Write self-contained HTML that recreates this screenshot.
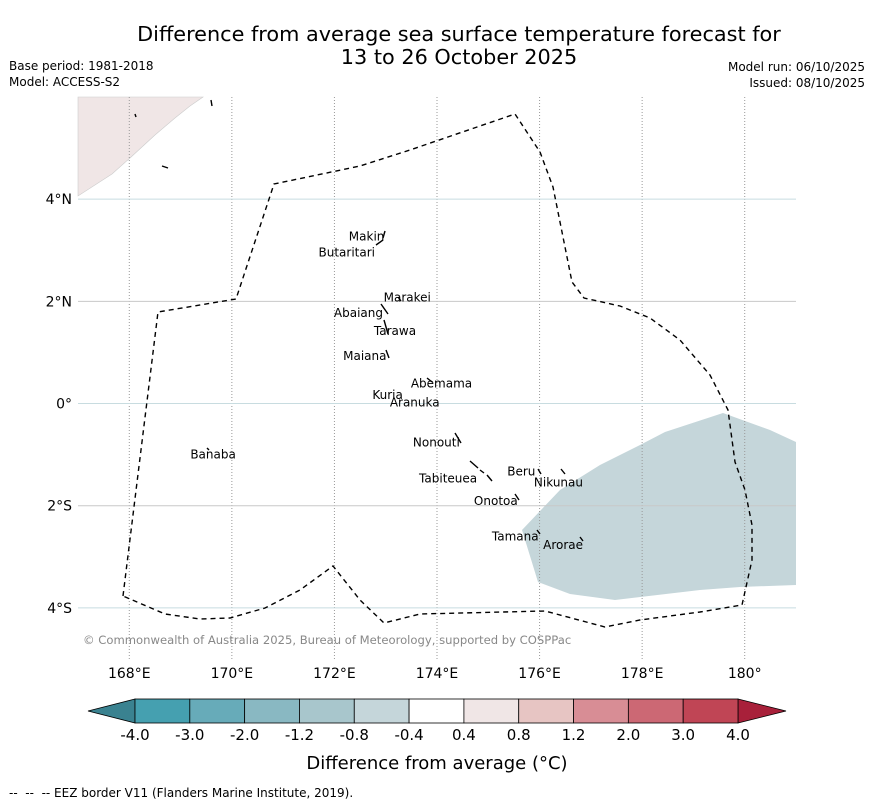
<!DOCTYPE html>
<html><head><meta charset="utf-8"><style>
body{margin:0;background:#fff;width:873px;height:804px;overflow:hidden;font-family:"DejaVu Sans","Liberation Sans",sans-serif}
svg text{font-family:"DejaVu Sans","Liberation Sans",sans-serif}
</style></head><body>
<svg id="c" width="873" height="804">
<text x="459" y="41" font-size="20.8" text-anchor="middle">Difference from average sea surface temperature forecast for</text>
<text x="459" y="64" font-size="20.8" text-anchor="middle">13 to 26 October 2025</text>
<text x="9" y="70" font-size="12">Base period: 1981-2018</text>
<text x="9" y="86" font-size="12">Model: ACCESS-S2</text>
<text x="865" y="71" font-size="12" text-anchor="end">Model run: 06/10/2025</text>
<text x="865" y="87" font-size="12" text-anchor="end">Issued: 08/10/2025</text>
<g id="map"></g>
<text x="83" y="644" font-size="11.6" fill="#888">© Commonwealth of Australia 2025, Bureau of Meteorology, supported by COSPPac</text>
<g id="cbar"></g>
<text x="437" y="769" font-size="18" text-anchor="middle">Difference from average (°C)</text>
<text x="9" y="797" font-size="12" xml:space="preserve">--  --  -- EEZ border V11 (Flanders Marine Institute, 2019).</text>
</svg>
<script>
const lonTicks=[168,170,172,174,176,178,180];
const lonLabels=["168°E","170°E","172°E","174°E","176°E","178°E","180°"];
const latTicks=[4,2,0,-2,-4];
const latLabels=["4°N","2°N","0°","2°S","4°S"];
const islandNames=["Makin","Butaritari","Marakei","Abaiang","Tarawa","Maiana","Abemama","Kuria","Aranuka","Nonouti","Banaba","Beru","Tabiteuea","Nikunau","Onotoa","Tamana","Arorae"];
const islandLon=[172.28,171.69,172.96,171.99,172.77,172.17,173.49,172.74,173.08,173.53,169.19,175.37,173.65,175.89,174.72,175.07,176.07];
const islandLat=[3.27,2.96,2.08,1.77,1.42,0.93,0.39,0.17,0.02,-0.76,-1.00,-1.33,-1.47,-1.55,-1.91,-2.60,-2.77];
const cbarLevels=["-4.0","-3.0","-2.0","-1.2","-0.8","-0.4","0.4","0.8","1.2","2.0","3.0","4.0"];
const cbarColors=["#45a0b0","#67abb9","#89b8c2","#a8c6cc","#c5d6da","#ffffff","#f0e6e6","#e7c5c3","#d88d95","#cc6874","#c04555"];
const x0=78,x1=796,y0=97,y1=659,lonMin=167,lonMax=181,latMin=-5,latMax=6;
const X=l=>x0+(l-lonMin)/(lonMax-lonMin)*(x1-x0);
const Y=l=>y0+(latMax-l)/(latMax-latMin)*(y1-y0);
const NS="http://www.w3.org/2000/svg";
function mk(t,a,p){const e=document.createElementNS(NS,t);for(const k in a)e.setAttribute(k,a[k]);p.appendChild(e);return e;}
const map=document.getElementById('map');
let e=mk('polygon',{points:"78,97 203,97 190,106 175,118 155,135 130,158 112,174 78,196",fill:"#f0e6e6",stroke:"#ccc","stroke-width":0.6},map);


e=mk('polygon',{points:"522,530 538,582 570,594 615,600 700,590 740,587 796,585 796,442 770,430 723,413 665,432 640,445 600,465 560,490",fill:"#c5d6da"},map);


lonTicks.forEach((l,i)=>{
 const g=mk('line',{x1:X(l),x2:X(l),y1:y0,y2:y1,stroke:"#999","stroke-width":1,"stroke-dasharray":"1,2"},map);
 
 
 const t=mk('text',{x:X(l),y:678,"font-size":14,"text-anchor":"middle"},map);t.textContent=lonLabels[i];
 
 
});
latTicks.forEach((l,i)=>{
 const g=mk('line',{x1:x0,x2:x1,y1:Y(l),y2:Y(l),stroke:(l%4==0?"#c8dce0":"#c8c8c8"),"stroke-width":1},map);
 
 
 const t=mk('text',{x:72,y:Y(l)+5,"font-size":14,"text-anchor":"end"},map);t.textContent=latLabels[i];
 
 
});
e=mk('path',{d:"M123,596 L158,312 L236,299 L274,184 L360,166 L410,150 L515,114 L540,152 L553,187 L572,282 L584,298 L620,306 L650,318 L680,340 L710,375 L728,410 L735,462 L745,490 L752,525 L752,560 L742,605 L700,612 L640,620 L605,627 L545,611 L420,614 L384,623 L360,600 L333,566 L300,590 L265,608 L230,618 L200,619 L165,614 Z",fill:"none",stroke:"#000","stroke-width":1.4,"stroke-dasharray":"5,4"},map);


islandNames.forEach((n,i)=>{
 const t=mk('text',{x:X(islandLon[i]),y:Y(islandLat[i])+4,"font-size":12},map);t.textContent=n;
 
 
});
[[385,231,383,238],[383,240,376,245],[398,297,401,301],[381,304,388,314],[384,320,388,334],[386,350,389,358],[427,378,432,382],[455,433,461,443],[470,461,478,468],[480,470,484,473],[487,475,492,481],[538,469,541,474],[561,469,565,474],[515,494,519,500],[537,530,540,534],[580,537,583,541],[207,448,209,450],[135,114,136,117],[211,100,212,106],[162,166,168,168]].forEach(s=>{
 const l=mk('line',{x1:s[0],y1:s[1],x2:s[2],y2:s[3],stroke:"#000","stroke-width":1.4},map);
 
 
});
const cb=document.getElementById('cbar');
const cx0=135,cx1=738,cy0=699,cy1=723,sw=(cx1-cx0)/cbarColors.length;
e=mk('polygon',{points:`88,711 ${cx0},${cy0} ${cx0},${cy1}`,fill:"#3a8290",stroke:"#000","stroke-width":0.8},cb);


e=mk('polygon',{points:`786,711 ${cx1},${cy0} ${cx1},${cy1}`,fill:"#a8203a",stroke:"#000","stroke-width":0.8},cb);


cbarColors.forEach((c,i)=>{
 const r=mk('rect',{x:cx0+i*sw,y:cy0,width:sw,height:cy1-cy0,fill:c,stroke:"#000","stroke-width":0.8},cb);
 
 
});
cbarLevels.forEach((v,i)=>{
 const t=mk('text',{x:cx0+i*sw,y:740,"font-size":15,"text-anchor":"middle"},cb);t.textContent=v;
 
 
});
</script>
</body></html>
